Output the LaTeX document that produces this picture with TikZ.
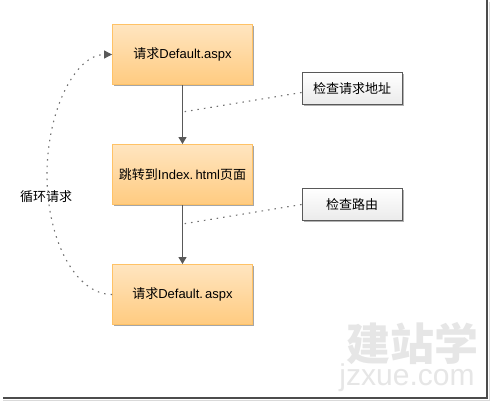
\documentclass[tikz,border=0pt]{standalone}
\usepackage{fontspec}
\setmainfont{Liberation Sans}
\newfontfamily\cjk{Noto Sans CJK SC}
\usetikzlibrary{arrows.meta,shadows}
\definecolor{orangetop}{HTML}{FFE5C0}
\definecolor{orangebot}{HTML}{FFCB80}
\definecolor{orangeline}{HTML}{FFC266}
\definecolor{lineg}{HTML}{595959}
\definecolor{dotg}{HTML}{707070}
\definecolor{wm}{HTML}{E6E6E6}
\tikzset{
  x=1pt,y=-1pt,
  flow/.style={draw=orangeline,line width=0.9pt,top color=orangetop,bottom color=orangebot,
    minimum width=140pt,minimum height=60pt,inner sep=0pt,font=\fontsize{13}{15}\selectfont,
    drop shadow={shadow xshift=1.5pt,shadow yshift=-1.5pt,opacity=.35,fill=black}},
  note/.style={draw=lineg,line width=0.9pt,top color=white,bottom color=black!8,
    minimum width=100pt,minimum height=32pt,inner sep=0pt,font=\cjk\fontsize{13}{15}\selectfont,
    drop shadow={shadow xshift=1.5pt,shadow yshift=-1.5pt,opacity=.3,fill=black}},
  flowarrow/.style={draw=lineg,line width=1pt,-{Triangle[length=7pt,width=8pt,fill=lineg]}},
  dotline/.style={draw=dotg,line width=1.1pt,dash pattern=on 1.5pt off 5pt},
  loopline/.style={dotline,-{Triangle[length=8pt,width=8pt,fill=lineg,color=lineg]}},
  lab/.style={font=\cjk\fontsize{13}{15}\selectfont,inner sep=0pt},
}
\begin{document}
\begin{tikzpicture}
\useasboundingbox (0,0) rectangle (490,401);
\fill[white] (0,0) rectangle (490,401);
% watermark
\node[text=wm,inner sep=0pt,text height=34pt,text depth=4pt,font=\cjk\bfseries\fontsize{44}{44}\selectfont] (wmark) at (412,345) {建站学};
\node[text=wm,inner sep=0pt,text height=15pt,text depth=6pt,font=\fontsize{30}{30}\selectfont] (wurl) at (407,381) {jzxue.com};
% frame
\draw[black!15,line width=1pt] (489,2) -- (489,400) -- (3,400);
\draw[black!70,line width=1.6pt] (487,0) -- (487,398) -- (3,398);
% nodes
\node[flow] (a) at (182.5,54.5) {{\cjk 请求}Default.aspx};
\node[flow] (b) at (182.5,174.5) {{\cjk 跳转到}Index.\,html{\cjk 页面}};
\node[flow] (c) at (182.5,294.5) {{\cjk 请求}Default.\,aspx};
\node[note] (n1) at (352,88.5) {检查请求地址};
\node[note] (n2) at (352,204.5) {检查路由};
\node[lab] (loop) at (46,197) {循环请求};
\coordinate (m1) at (182.5,112);
\coordinate (m2) at (182.5,224);
% connectors
\draw[flowarrow] (a) -- (b);
\draw[flowarrow] (b) -- (c);
\draw[dotline] ([yshift=-4pt]n1.west) -- (m1);
\draw[dotline] (n2.west) -- (m2);
\draw[loopline] (c.west) .. controls (76,294.5) and (47,241) .. (47,175) .. controls (47,109) and (76,54.5) .. (a.west);
\end{tikzpicture}
\end{document}
